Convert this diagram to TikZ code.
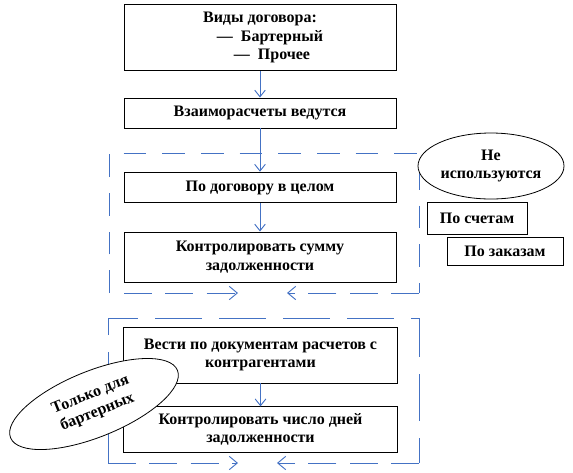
\documentclass[tikz,border=0pt]{standalone}
\usepackage{fontspec}
\setmainfont{Liberation Serif}
\usetikzlibrary{arrows.meta,shapes.geometric}
\definecolor{wordblue}{RGB}{68,114,196}

\tikzset{
  stepbox/.style={draw,line width=0.7pt,fill=white,font=\fontsize{12}{14}\selectfont\bfseries,
    align=center,inner sep=1pt},
  notebox/.style={stepbox,ellipse,line width=0.6pt},
  flow/.style={wordblue,line width=0.7pt,-{Straight Barb[length=5pt,width=8pt]}},
  frameline/.style={wordblue,line width=0.7pt,dash pattern=on 17pt off 12pt},
  frameflow/.style={wordblue,line width=0.7pt,dash pattern=on 21pt off 10pt,
    -{Straight Barb[length=6pt,width=10pt]}}
}

\begin{document}
\begin{tikzpicture}[x=0.75pt,y=-0.75pt]
        \useasboundingbox (0,0) rectangle (573,472);
        % dashed frames
        \coordinate (f1sw) at (109,293);
        \coordinate (f1nw) at (109,153);
        \coordinate (f1ne) at (419,153);
        \coordinate (f1se) at (419,293);
        \coordinate (f1bl) at (124,293);
        \coordinate (f1tl) at (238,293);
        \coordinate (f1tr) at (287,293);
        \draw[frameline] (f1sw) -- (f1nw) -- (f1ne) -- (f1se);
        \draw[frameflow] (f1bl) -- (f1tl);
        \draw[frameflow] (f1se) -- (f1tr);
        \coordinate (f2sw) at (108,463);
        \coordinate (f2nw) at (108,318);
        \coordinate (f2ne) at (419,318);
        \coordinate (f2se) at (419,463);
        \coordinate (f2tl) at (238,463);
        \coordinate (f2tr) at (277,463);
        \draw[frameline,dash pattern=on 35pt off 13pt] (f2sw) -- (f2nw) -- (f2ne) -- (f2se);
        \draw[frameflow] (f2sw) -- (f2tl);
        \draw[frameflow] (f2se) -- (f2tr);
        % main column
        \node[stepbox,minimum width=204pt,minimum height=50pt] (kinds) at (260,37.5)
          {Виды договора:\\\hspace*{15pt}—\ \ Бартерный\\\hspace*{18pt}—\ \ Прочее};
        \node[stepbox,minimum width=204pt,minimum height=22.5pt] (settle) at (260,113) {Взаиморасчеты ведутся};
        \node[stepbox,minimum width=204pt,minimum height=23pt] (whole) at (260,187.5) {По договору в целом};
        \node[stepbox,minimum width=204pt,minimum height=37.5pt] (sum) at (260,257)
          {Контролировать сумму\\задолженности};
        \node[stepbox,minimum width=205pt,minimum height=42pt] (docs) at (260.5,355)
          {Вести по документам расчетов с\\контрагентами};
        \node[stepbox,minimum width=205pt,minimum height=34pt] (days) at (260.5,429.5)
          {Контролировать число дней\\задолженности};
        \draw[flow] (kinds) -- (settle);
        \draw[flow] (settle) -- (whole);
        \draw[flow] (whole) -- (sum);
        \draw[flow] (docs) -- (days);
        % side notes
        \node[notebox,minimum width=109.5pt,minimum height=49.5pt,inner sep=0pt] (notused) at (491,166)
          {Не\\используются};
        \node[stepbox,minimum width=75pt,minimum height=24pt] (bills) at (477,218) {По счетам};
        \node[stepbox,minimum width=87pt,minimum height=21pt] (orders) at (505,251) {По заказам};
        \node[notebox,rotate=22,minimum width=135pt,minimum height=49.5pt,inner sep=0pt] (barter) at (94,404)
          {Только для\\бартерных};
      \end{tikzpicture}
\end{document}
